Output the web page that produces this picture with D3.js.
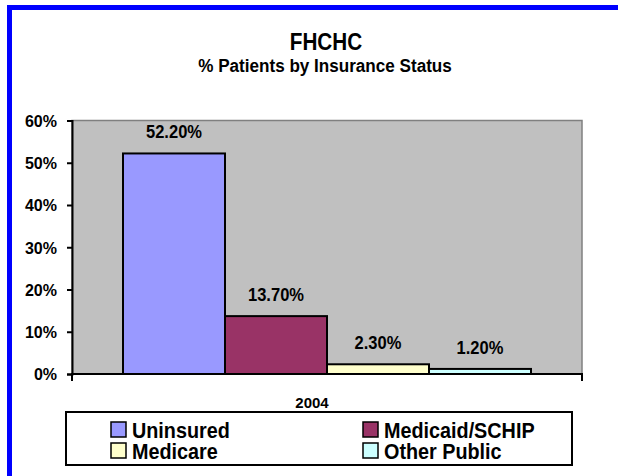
<!DOCTYPE html>
<html>
<head>
<meta charset="utf-8">
<script src="https://cdn.jsdelivr.net/npm/d3@7/dist/d3.min.js"></script>
<style>
  html, body { margin: 0; padding: 0; background: #fff; }
  svg { display: block; }
  text { font-family: "Liberation Sans", Arial, sans-serif; font-weight: bold; fill: #000; }
</style>
</head>
<body>
<script>
const categories = ["2004"];
const seriesNames = ["Uninsured", "Medicaid/SCHIP", "Medicare", "Other Public"];
const seriesValues = [0.522, 0.137, 0.023, 0.012];
const seriesColors = ["#9999FF", "#993366", "#FFFFCC", "#CCFFFF"];
const yTicks = [0, 0.1, 0.2, 0.3, 0.4, 0.5, 0.6];
const titleText = "FHCHC";
const subtitleText = "% Patients by Insurance Status";

const W = 618, H = 476;
const svg = d3.select("body").append("svg").attr("width", W).attr("height", H);

// narrow-looking text: real text, horizontally condensed
function narrowText(parent, x, y, str, size, sx, anchor) {
  return parent.append("text")
    .attr("transform", `translate(${x},${y}) scale(${sx},1)`)
    .attr("text-anchor", anchor || "start")
    .style("font-size", size + "px")
    .text(str);
}

// outer blue frame (right/bottom edges run off the picture)
svg.append("rect").attr("x", 9.5).attr("y", 7.5).attr("width", 640).attr("height", 500)
  .attr("fill", "none").attr("stroke", "#0000FF").attr("stroke-width", 5);

narrowText(svg, 326, 50, titleText, 23, 0.9, "middle");
narrowText(svg, 325, 72, subtitleText, 19, 0.9, "middle");

const plot = { left: 72, right: 582, top: 120.5, bottom: 374 };

const y = d3.scaleLinear().domain([0, 0.6]).range([plot.bottom, plot.top]);
const xCat = d3.scaleBand().domain(categories).range([plot.left, plot.right]).padding(0);
const xSer = d3.scaleBand().domain(seriesNames).range([0, xCat.bandwidth()]).paddingInner(0).paddingOuter(0.5);

// plot area
svg.append("rect").attr("x", plot.left).attr("y", plot.top)
  .attr("width", plot.right - plot.left).attr("height", plot.bottom - plot.top)
  .attr("fill", "#C0C0C0").attr("stroke", "#808080").attr("stroke-width", 1.5);

// bars
const g = svg.append("g");
categories.forEach(cat => {
  seriesNames.forEach((s, i) => {
    const v = seriesValues[i];
    const x0 = xCat(cat) + xSer(s);
    g.append("rect").attr("x", x0).attr("y", y(v))
      .attr("width", xSer.bandwidth()).attr("height", y(0) - y(v))
      .attr("fill", seriesColors[i]).attr("stroke", "#000").attr("stroke-width", 2);
    narrowText(g, x0 + xSer.bandwidth() / 2, y(v) - 15, d3.format(".2%")(v), 19, 0.87, "middle");
  });
});

// y axis
const yAxis = d3.axisLeft(y).tickValues(yTicks).tickFormat(d3.format(".0%")).tickSize(5).tickPadding(10);
const ya = svg.append("g").attr("transform", `translate(${plot.left},0)`).call(yAxis);
ya.select(".domain").attr("stroke", "#000").attr("stroke-width", 2);
ya.selectAll(".tick line").attr("stroke", "#000").attr("stroke-width", 2);
ya.selectAll(".tick text").style("font-size", "16px").attr("dy", "0.36em");

// x axis
const xAxis = d3.axisBottom(xCat).tickSize(0).tickPadding(23);
const xa = svg.append("g").attr("transform", `translate(0,${plot.bottom})`).call(xAxis);
xa.select(".domain").attr("stroke", "#000").attr("stroke-width", 2)
  .attr("d", `M${plot.left},7V0H${plot.right}V7`);
xa.selectAll(".tick text").style("font-size", "15px").attr("dx", -15);

// legend
svg.append("rect").attr("x", 66).attr("y", 412).attr("width", 506).attr("height", 53)
  .attr("fill", "#fff").attr("stroke", "#000").attr("stroke-width", 2);
const legPos = [[111, 422], [363, 422], [111, 443], [363, 443]];
seriesNames.forEach((s, i) => {
  const [lx, ly] = legPos[i];
  svg.append("rect").attr("x", lx).attr("y", ly).attr("width", 15).attr("height", 15)
    .attr("fill", seriesColors[i]).attr("stroke", "#000").attr("stroke-width", 1.5);
  narrowText(svg, lx + 21, ly + 15.5, s, 22, 0.9, "start");
});
</script>
</body>
</html>
